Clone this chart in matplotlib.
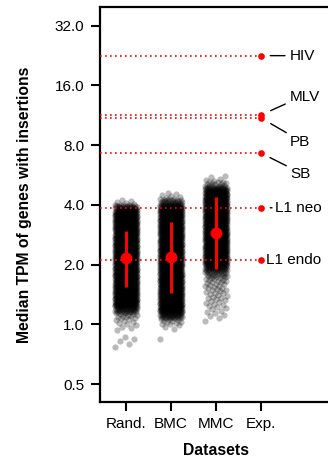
import numpy as np
import matplotlib
matplotlib.use("Agg")
from matplotlib import pyplot as plt
from matplotlib.ticker import FixedLocator, FuncFormatter, NullLocator

plt.rcParams['font.family'] = ['Liberation Sans', 'DejaVu Sans']

# Datasets shown on the x axis
datasets = ["Rand.", "BMC", "MMC", "Exp."]

# Strip data: number of sets falling in each log2 bin (bin width 0.1, first bin starts at log2 = -0.4)
bin_start = -0.4
bin_width = 0.1
rand_counts = [2, 3, 0, 4, 6, 12, 40, 75, 75, 75, 75, 75, 75, 75, 75, 75,
               75, 75, 75, 75, 75, 75, 75, 45, 5, 0, 0, 0, 0, 0]
bmc_counts = [0, 1, 0, 3, 10, 40, 75, 75, 75, 75, 75, 75, 75, 75, 75, 75,
              75, 75, 75, 75, 75, 75, 75, 75, 30, 6, 0, 0, 0, 0]
mmc_counts = [0, 0, 0, 0, 1, 4, 5, 6, 7, 8, 9, 12, 22, 45, 75, 75,
              75, 75, 75, 75, 75, 75, 75, 75, 75, 75, 55, 15, 4, 0]

# Median and error bar limits of each random/control set
med_vals = [2.16, 2.18, 2.90]
low_vals = [1.54, 1.44, 1.91]
high_vals = [2.97, 3.27, 4.37]

# Experimental insertion datasets
exp_labels = ["HIV", "MLV", "PB", "SB", "L1 neo", "L1 endo"]
exp_vals = [22.6, 11.35, 10.96, 7.30, 3.87, 2.10]

# label placement (pixels from the point): text offset, leader line end, gap at the point
text_off = [(29, 0), (29, 18), (29, -24), (29, -20.5), (14, 0), (5, 0)]
line_end = [(24, 0), (24.3, 11), (25.3, -14.6), (25.3, -12.7), (11, 0), None]
line_gap = [9.3, 10.6, 11.2, 10.1, 9.3, 0]

fig = plt.figure(figsize=(3.28, 4.62), dpi=100)
ax = fig.add_axes([100 / 328, 1 - 401.7 / 462, 228 / 328, 394.4 / 462])

# jittered strips
for i, counts in enumerate([rand_counts, bmc_counts, mmc_counts]):
    vals = []
    for b, n in enumerate(counts):
        lo = bin_start + b * bin_width
        for k in range(n):
            vals.append(lo + (k + 0.5) / n * bin_width)
    vals = 2 ** np.array(vals)
    jit = ((np.arange(len(vals)) * 0.618034) % 1 - 0.5) * 0.5
    ax.scatter(i + jit, vals, s=20, color="black", alpha=0.27,
               linewidths=0, zorder=1)

# dotted reference lines for the experimental sets
xmin = -0.578
ax.hlines(exp_vals, xmin, 3, colors="red", linestyles=(0, (1, 2)),
          linewidth=1.2, zorder=3)
ax.plot([3] * len(exp_vals), exp_vals, "o", color="red", markersize=4.8,
        markeredgewidth=0, zorder=4)

# medians with bars
for i in range(3):
    ax.plot([i, i], [low_vals[i], high_vals[i]], color="red", linewidth=2.2,
            zorder=4, solid_capstyle="butt")
ax.plot(range(3), med_vals, "o", color="red", markersize=8.5,
        markeredgewidth=0, zorder=5)

# labels for experimental points
px = 0.72
for j, lab in enumerate(exp_labels):
    ax.annotate(lab, xy=(3, exp_vals[j]), xytext=text_off[j],
                textcoords="offset pixels", ha="left", va="center",
                fontsize=11, zorder=6)
    if line_end[j] is not None:
        ax.annotate("", xy=(3, exp_vals[j]), xytext=line_end[j],
                    textcoords="offset pixels",
                    arrowprops=dict(arrowstyle="-", color="black", lw=1.0,
                                    shrinkA=0, shrinkB=line_gap[j] * px))

ax.set_yscale("log", base=2)
ax.set_ylim(0.408, 39.6)
ax.set_xlim(xmin, 4.489)
yt = [0.5, 1, 2, 4, 8, 16, 32]
ax.yaxis.set_major_locator(FixedLocator(yt))
ax.yaxis.set_major_formatter(FuncFormatter(lambda v, p: "%.1f" % v))
ax.yaxis.set_minor_locator(NullLocator())
ax.set_xticks(range(4))
ax.set_xticklabels(datasets)

for side in ["top", "left", "bottom"]:
    ax.spines[side].set_linewidth(1.6)
ax.spines["right"].set_visible(False)
ax.tick_params(axis="both", labelsize=11, width=1.5, length=6.5, pad=4.8)

ax.set_ylabel("Median TPM of genes with insertions", fontsize=11.3,
              fontweight="bold")
ax.yaxis.set_label_coords(-0.298, 0.5)
ax.set_xlabel("Datasets", fontsize=11.3, fontweight="bold")
ax.xaxis.set_label_coords(0.507, -0.105)

fig.savefig("out.png", dpi=100)
